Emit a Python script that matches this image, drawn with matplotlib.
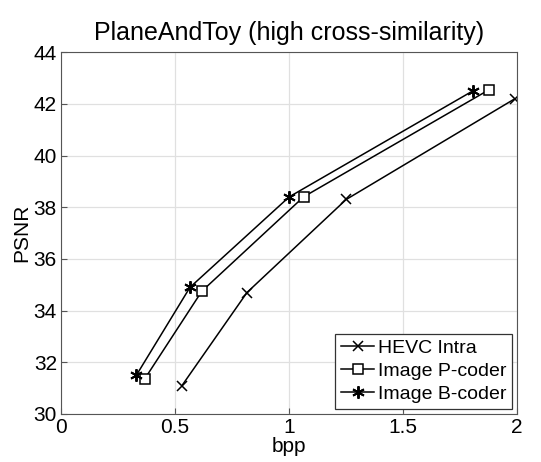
import matplotlib
matplotlib.use("Agg")
import matplotlib.pyplot as plt

plt.rcParams['font.family'] = ['Liberation Sans', 'DejaVu Sans']

# rate-distortion points
hevc_bpp = [0.53, 0.815, 1.25, 1.99]
hevc_psnr = [31.1, 34.7, 38.3, 42.2]
pcoder_bpp = [0.366, 0.617, 1.063, 1.877]
pcoder_psnr = [31.35, 34.75, 38.4, 42.55]
bcoder_bpp = [0.33, 0.565, 1.0, 1.805]
bcoder_psnr = [31.5, 34.9, 38.4, 42.5]

xticks = [0, 0.5, 1, 1.5, 2]
xticklabels = ['0', '0.5', '1', '1.5', '2']
yticks = [30, 32, 34, 36, 38, 40, 42, 44]

fig = plt.figure(figsize=(5.41, 4.62), dpi=100)
ax = fig.add_axes([0.113, 0.104, 0.843, 0.783])

ax.plot(hevc_bpp, hevc_psnr, color='k', lw=1.1, marker='x', ms=7, mew=1.1,
        label='HEVC Intra')
ax.plot(pcoder_bpp, pcoder_psnr, color='k', lw=1.1, marker='s', ms=7, mew=1.1,
        mfc='white', label='Image P-coder')
ax.plot(bcoder_bpp, bcoder_psnr, color='k', lw=1.1, marker=(6, 2, 0), ms=9,
        mew=1.4, label='Image B-coder')

ax.set_xlim(0, 2)
ax.set_ylim(30, 44)
ax.set_xticks(xticks)
ax.set_xticklabels(xticklabels)
ax.set_yticks(yticks)
ax.tick_params(labelsize=15, direction='in', length=4, color='#555555', pad=3)
ax.grid(True, color='#e0e0e0', lw=0.9)
ax.set_axisbelow(True)
for s in ax.spines.values():
    s.set_color('#555555')

ax.set_xlabel('bpp', fontsize=15, labelpad=0)
ax.set_ylabel('PSNR', fontsize=15, labelpad=2)
ax.set_title('PlaneAndToy (high cross-similarity)', fontsize=18, pad=9)

leg = ax.legend(loc='lower right', fontsize=14, fancybox=False, framealpha=1,
                edgecolor='#333333', handlelength=1.7, handletextpad=0.2,
                borderpad=0.3, labelspacing=0.28, borderaxespad=0.25)
leg.get_frame().set_linewidth(0.9)

fig.savefig('out.png', dpi=100)
